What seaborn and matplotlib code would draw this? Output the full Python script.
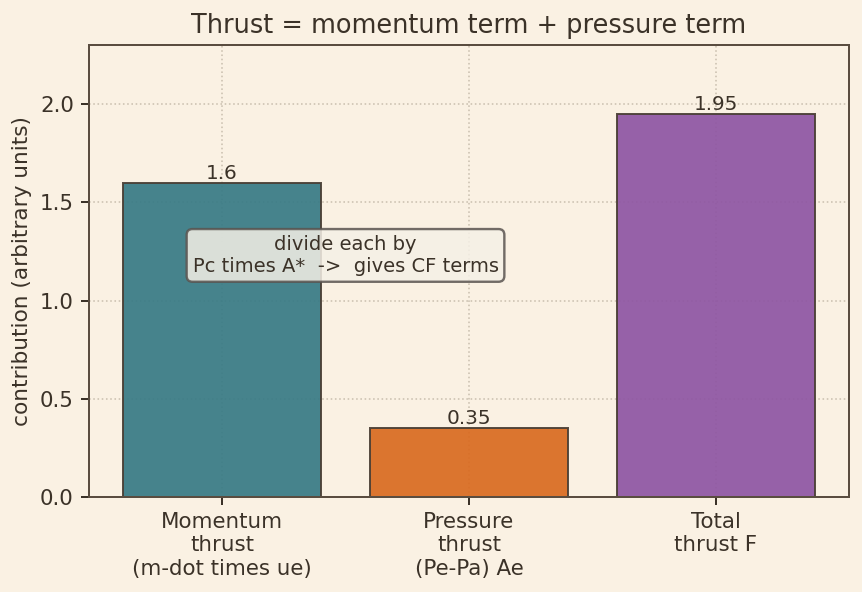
import matplotlib
matplotlib.use("Agg")
import matplotlib.pyplot as plt
import seaborn as sns
import pandas as pd

categories = ["Momentum\nthrust\n(m-dot times ue)", "Pressure\nthrust\n(Pe-Pa) Ae", "Total\nthrust F"]
values = [1.6, 0.35, 1.95]
value_labels = ["1.6", "0.35", "1.95"]
colors = ["#377a85", "#d96a1f", "#8e55a3"]

bg = "#faf1e3"
ink = "#3b3228"
sns.set_theme(style="whitegrid")
plt.rcParams.update({
    "figure.facecolor": bg,
    "axes.facecolor": bg,
    "axes.edgecolor": "#5a4d40",
    "axes.labelcolor": ink,
    "xtick.color": ink,
    "ytick.color": ink,
    "text.color": ink,
    "grid.color": "#b8ad9c",
    "grid.linestyle": ":",
    "grid.linewidth": 0.8,
    "grid.alpha": 0.7,
    "axes.linewidth": 1.0,
})
plt.rcParams["font.family"] = ["DejaVu Sans"]

df = pd.DataFrame({"cat": categories, "val": values})

fig, ax = plt.subplots(figsize=(862 / 144, 592 / 144), dpi=144)
sns.barplot(data=df, x="cat", y="val", hue="cat", palette=colors, legend=False,
            ax=ax, width=0.8, edgecolor="#4a3f35", linewidth=1.0, alpha=0.92, saturation=1)
ax.set_axisbelow(True)
ax.grid(True, axis="both")
ax.set_ylim(0, 2.3)
ax.set_xlim(-0.54, 2.54)
ax.set_xlabel("")
ax.set_ylabel("contribution (arbitrary units)", fontsize=10.8)
ax.set_title("Thrust = momentum term + pressure term", fontsize=12.8)
ax.tick_params(axis="both", labelsize=10.7, length=4, width=1, bottom=True, left=True, colors=ink)
for s in ax.spines.values():
    s.set_visible(True)
    s.set_color("#5a4d40")

for i, (v, lab) in enumerate(zip(values, value_labels)):
    ax.text(i, v, lab, ha="center", va="bottom", fontsize=10, color=ink)

ax.text(0.5, 1.23, "divide each by\nPc times A*  ->  gives CF terms", ha="center", va="center",
        fontsize=9.75, color=ink,
        bbox=dict(boxstyle="round,pad=0.3", facecolor="#f5f0e6", edgecolor="#5a5450", alpha=0.85, linewidth=1.2))

fig.subplots_adjust(left=0.103, right=0.985, top=0.924, bottom=0.16)
fig.savefig("out.png", dpi=144, facecolor=bg)
